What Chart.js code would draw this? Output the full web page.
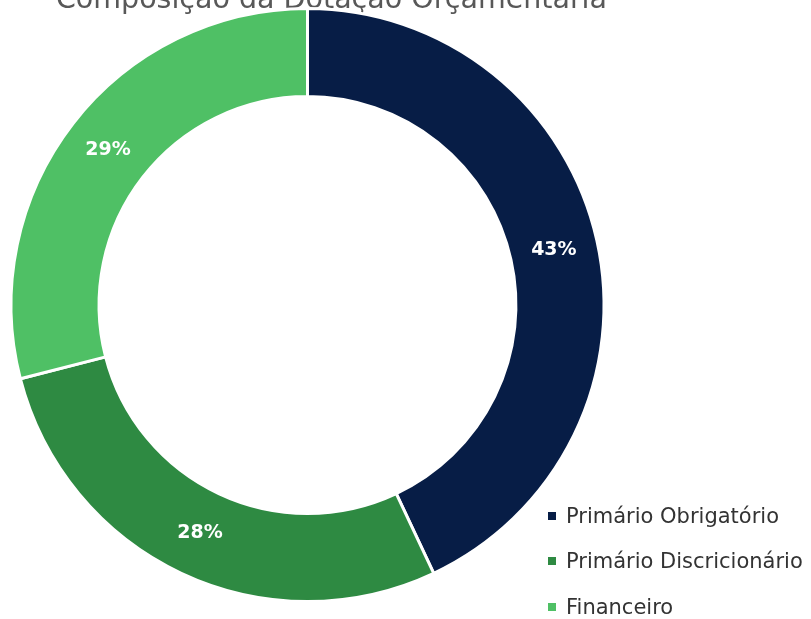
<!DOCTYPE html>
<html lang="pt-BR">
<head>
<meta charset="utf-8">
<title>Composição da Dotação Orçamentária</title>
<script src="https://cdn.jsdelivr.net/npm/chart.js@4/dist/chart.umd.min.js"></script>
<style>
  html, body { margin: 0; padding: 0; background: #ffffff; }
  body { width: 811px; height: 619px; position: relative; overflow: hidden; }
  #chart { position: absolute; left: 0; top: -31px; }
  #legend {
    position: absolute; left: 548px; top: 493px;
    font-family: "DejaVu Sans", Verdana, sans-serif; font-size: 21px; color: #333333;
  }
  .item { display: flex; align-items: center; height: 45.5px; white-space: nowrap; }
  .box { width: 8px; height: 8px; margin-right: 10px; flex: none; }
</style>
</head>
<body>
<canvas id="chart" width="811" height="650"></canvas>
<div id="legend"></div>
<script>
// Composição da dotação (percentual do total)
const chartTitle = 'Composição da Dotação Orçamentária';
const categories = ['Primário Obrigatório', 'Primário Discricionário', 'Financeiro'];
const shares = [43, 28, 29];
const sliceColors = ['#071d46', '#2e8a42', '#4fc065'];

// Percent labels written on each ring segment
const sliceLabels = {
  id: 'sliceLabels',
  afterDatasetsDraw(chart) {
    const { ctx } = chart;
    const meta = chart.getDatasetMeta(0);
    const values = chart.data.datasets[0].data;
    ctx.save();
    ctx.font = 'bold 19px "DejaVu Sans", Verdana, sans-serif';
    ctx.fillStyle = '#ffffff';
    ctx.textAlign = 'center';
    ctx.textBaseline = 'middle';
    meta.data.forEach((arc, i) => {
      const p = arc.tooltipPosition();
      ctx.fillText(values[i] + '%', p.x, p.y);
    });
    ctx.restore();
  }
};

const chart = new Chart(document.getElementById('chart'), {
  type: 'doughnut',
  data: {
    labels: categories,
    datasets: [{
      data: shares,
      backgroundColor: sliceColors,
      borderColor: '#ffffff',
      borderWidth: 3,
      hoverOffset: 0
    }]
  },
  options: {
    responsive: false,
    devicePixelRatio: 1,
    animation: false,
    events: [],
    cutout: '70.3%',
    layout: { padding: { left: 8, right: 204, top: 0, bottom: 16 } },
    plugins: {
      legend: { display: false },
      tooltip: { enabled: false },
      title: {
        display: true,
        text: chartTitle,
        align: 'end',
        color: '#585858',
        font: { family: '"DejaVu Sans", Verdana, sans-serif', size: 28.5, weight: 'normal', lineHeight: 0.421 },
        padding: { top: 26, bottom: 0 }
      }
    }
  },
  plugins: [sliceLabels]
});

// Legend list built from the chart's own legend items
const legendEl = document.getElementById('legend');
chart.options.plugins.legend.labels.generateLabels(chart).forEach(item => {
  const row = document.createElement('div');
  row.className = 'item';
  const box = document.createElement('span');
  box.className = 'box';
  box.style.background = item.fillStyle;
  const text = document.createElement('span');
  text.textContent = item.text;
  row.appendChild(box);
  row.appendChild(text);
  legendEl.appendChild(row);
});
</script>
</body>
</html>
